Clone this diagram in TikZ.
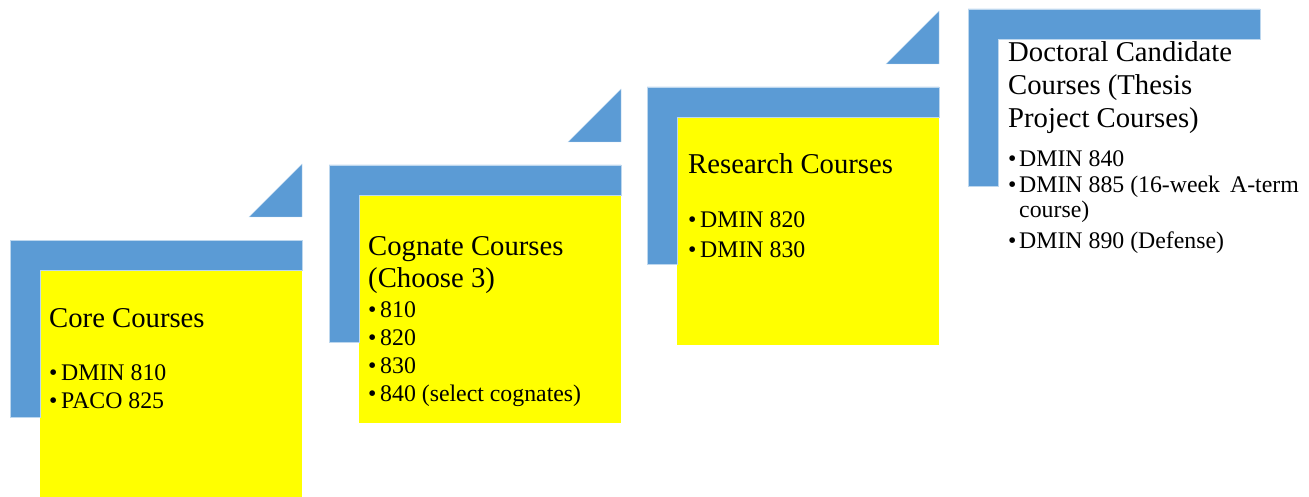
\documentclass[tikz,border=0pt]{standalone}
\usepackage{fontspec}
\setmainfont{Liberation Serif}
\definecolor{stepblue}{HTML}{5B9BD5}
\definecolor{stepyellow}{HTML}{FFFF00}
\tikzset{
  bluepart/.style={fill=stepblue, draw=stepblue!40!white, line width=0.4pt},
  yellowpart/.style={fill=stepyellow},
  titletext/.style={anchor=base west, inner sep=0pt, font=\fontsize{28.7}{33}\selectfont},
  itemtext/.style={anchor=base west, inner sep=0pt, font=\fontsize{23.8}{28}\selectfont},
  bullettext/.style={anchor=base west, inner sep=0pt, font=\fontsize{23.8}{28}\selectfont},
}
\newcommand\drawstepshape[3]{% x, y, with yellow/triangle (1 or 0)
  \begin{scope}[shift={(#1,#2)}]
    \ifnum#3=1
      \path[yellowpart] (30,30) rectangle (292,258);
    \fi
    \path[bluepart] (0,0) -- (292,0) -- (292,30) -- (30,30) -- (30,177) -- (0,177) -- cycle;
    \ifnum#3=1
      \path[bluepart] (239,-23) -- (292,-23) -- (292,-76) -- cycle;
    \fi
  \end{scope}}
\begin{document}
\begin{tikzpicture}[x=1pt,y=-1pt]
\useasboundingbox (0,0) rectangle (1309,497);
\drawstepshape{10}{240}{1}
\drawstepshape{329}{165}{1}
\drawstepshape{647}{87}{1}
\drawstepshape{968}{9}{0}
% step 1
\node[titletext] (t1) at (49,327) {Core Courses};
\node[bullettext] (b1a) at (49,380) {\textbullet};
\node[itemtext] (i1a) at (61,380) {DMIN 810};
\node[bullettext] (b1b) at (49,408) {\textbullet};
\node[itemtext] (i1b) at (61,408) {PACO 825};
% step 2
\node[titletext] (t2a) at (368,255) {Cognate Courses};
\node[titletext] (t2b) at (368,287) {(Choose 3)};
\node[bullettext] (b2a) at (368,317) {\textbullet};
\node[itemtext] (i2a) at (380,317) {810};
\node[bullettext] (b2b) at (368,345) {\textbullet};
\node[itemtext] (i2b) at (380,345) {820};
\node[bullettext] (b2c) at (368,373) {\textbullet};
\node[itemtext] (i2c) at (380,373) {830};
\node[bullettext] (b2d) at (368,401) {\textbullet};
\node[itemtext] (i2d) at (380,401) {840 (select cognates)};
% step 3
\node[titletext] (t3) at (688,174) {Research Courses};
\node[bullettext] (b3a) at (688,228) {\textbullet};
\node[itemtext] (i3a) at (700,228) {DMIN 820};
\node[bullettext] (b3b) at (688,257) {\textbullet};
\node[itemtext] (i3b) at (700,257) {DMIN 830};
% step 4
\node[titletext] (t4a) at (1008,62) {Doctoral Candidate};
\node[titletext] (t4b) at (1008,95) {Courses (Thesis};
\node[titletext] (t4c) at (1008,128) {Project Courses)};
\node[bullettext] (b4a) at (1008,167) {\textbullet};
\node[itemtext] (i4a) at (1019,167) {DMIN 840};
\node[bullettext] (b4b) at (1008,193) {\textbullet};
\node[itemtext] (i4b) at (1019,193) {DMIN 885 (16-week\hspace{10pt}A-term};
\node[itemtext] (i4c) at (1019,218) {course)};
\node[bullettext] (b4d) at (1008,248) {\textbullet};
\node[itemtext] (i4d) at (1019,248) {DMIN 890 (Defense)};
\end{tikzpicture}
\end{document}
